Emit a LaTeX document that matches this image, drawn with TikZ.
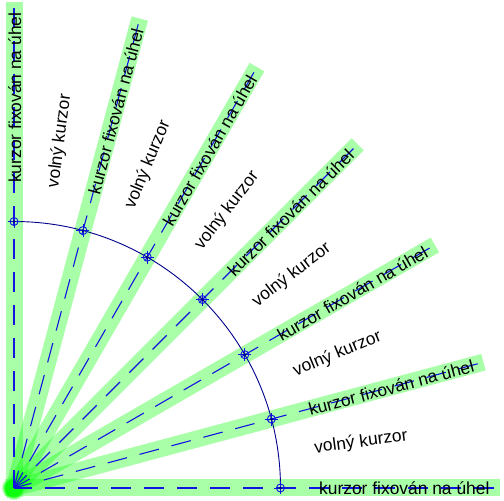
\documentclass[tikz,border=0pt]{standalone}
\usepackage{fontspec}
\setmainfont{Liberation Sans}
\definecolor{bandgreen}{RGB}{0,255,0}
\definecolor{guideblue}{RGB}{20,20,225}
\definecolor{arcnavy}{RGB}{0,0,140}
\begin{document}
\begin{tikzpicture}[x=1pt,y=1pt,
  band/.style={line width=17pt, draw=bandgreen, draw opacity=0.34},
  guide/.style={draw=guideblue, line width=1.1pt, dash pattern=on 20pt off 13pt, dash phase=2pt},
  arcline/.style={draw=arcnavy, line width=0.9pt},
  markring/.style={draw=guideblue, line width=0.9pt},
  markdot/.style={fill=arcnavy},
  fixlabel/.style={font=\fontsize{17.4}{20}\selectfont, anchor=base west, inner sep=0pt, transform shape},
  freelabel/.style={font=\fontsize{17.4}{20}\selectfont, anchor=center, inner sep=0pt, transform shape}]
\useasboundingbox (0,0) rectangle (504,501);
\clip (0,0) rectangle (504,501);
\coordinate (O) at (14,13);
% green bands
\foreach \a in {0,15,...,90} {
  \path (O) ++(\a+180:9) coordinate (s\a);
  \path (O) ++(\a:486) coordinate (e\a);
  \draw[band] (s\a) -- (e\a);
}
% dashed guides
\foreach \a in {0,15,...,90} {
  \draw[guide] (O) -- (e\a);
}
% arc
\path (O) ++(0:266.5) coordinate (m0);
\draw[arcline] (m0) arc[start angle=0, end angle=90, radius=266.5];
% markers
\foreach \a in {0,15,...,90} {
  \path (O) ++(\a:266.5) coordinate (m\a);
  \draw[markring] (m\a) circle (4);
  \draw[markring] (m\a) +(-6.5,0) -- +(6.5,0);
  \draw[markring] (m\a) +(0,-6.5) -- +(0,6.5);
  \fill[markdot] (m\a) circle (1.6);
}
% fixed labels
\foreach \a in {0,15,...,90} {
  \begin{scope}[shift={(O)}, rotate=\a]
    \node[fixlabel] (f\a) at (305,-7) {kurzor fixován na úhel};
  \end{scope}
}
% free labels
\foreach \b [count=\i] in {7.5,22.5,37.5,52.5,67.5,82.5} {
  \begin{scope}[shift={(O)}, rotate=\b]
    \node[freelabel] (v\i) at (350,0) {volný kurzor};
  \end{scope}
}
\end{tikzpicture}
\end{document}
